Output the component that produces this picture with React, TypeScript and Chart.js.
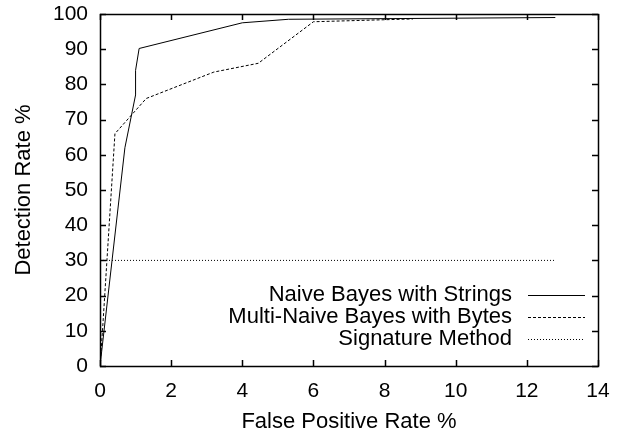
import React, { useEffect, useRef } from "react";
import { Chart, registerables } from "chart.js";

Chart.register(...registerables);

const stringsFP = [0, 0.7, 1.0, 1.0, 1.1, 4.0, 5.3, 12.8];
const stringsDR = [0, 62, 77, 84, 90.2, 97.5, 98.5, 99];
const bytesFP = [0, 0.07, 0.42, 1.3, 3.2, 4.45, 6.0, 8.8];
const bytesDR = [0, 10, 66, 76, 83.5, 86, 97.8, 98.6];
const sigFP = [0, 12.8];
const sigDR = [30, 30];
const seriesNames = ["Naive Bayes with Strings", "Multi-Naive Bayes with Bytes", "Signature Method"];
const xTicks = [0, 2, 4, 6, 8, 10, 12, 14];
const yTicks = [0, 10, 20, 30, 40, 50, 60, 70, 80, 90, 100];

const FONT = "'Liberation Sans', Arial, Helvetica, sans-serif";
const dashes = [[], [3, 2], [1, 2]];

const overlayPlugin = {
  id: "overlayPlugin",
  afterDraw(chart: any) {
    const ctx = chart.ctx;
    const ca = chart.chartArea;
    const L = Math.round(ca.left);
    const R = Math.round(ca.right);
    const T = Math.round(ca.top);
    const B = Math.round(ca.bottom);
    const xs = chart.scales.x;
    const ys = chart.scales.y;
    ctx.save();
    ctx.setLineDash([]);
    ctx.strokeStyle = "#000000";
    ctx.lineWidth = 1.5;
    ctx.strokeRect(L + 0.5, T + 0.5, R - L, B - T);
    ctx.beginPath();
    const tl = 6;
    for (const v of xTicks) {
      const px = Math.round(xs.getPixelForValue(v)) + 0.5;
      ctx.moveTo(px, B);
      ctx.lineTo(px, B - tl);
      ctx.moveTo(px, T);
      ctx.lineTo(px, T + tl);
    }
    for (const v of yTicks) {
      const py = Math.round(ys.getPixelForValue(v)) + 0.5;
      ctx.moveTo(L, py);
      ctx.lineTo(L + tl, py);
      ctx.moveTo(R, py);
      ctx.lineTo(R - tl, py);
    }
    ctx.stroke();

    ctx.lineWidth = 1;
    ctx.fillStyle = "#000000";
    ctx.font = `22px ${FONT}`;
    ctx.textAlign = "right";
    ctx.textBaseline = "middle";
    const rows = [B - 71, B - 49, B - 27];
    seriesNames.forEach((name, i) => {
      const y = rows[i];
      ctx.fillText(name, R - 86, y);
      ctx.beginPath();
      ctx.setLineDash(dashes[i]);
      ctx.moveTo(R - 70, y + 0.5);
      ctx.lineTo(R - 13, y + 0.5);
      ctx.stroke();
    });
    ctx.restore();
  },
};

export default function App() {
  const ref = useRef<HTMLCanvasElement>(null);
  useEffect(() => {
    if (!ref.current) return;
    const mk = (xs: number[], ys: number[]) => xs.map((x, i) => ({ x, y: ys[i] }));
    const chart = new Chart(ref.current, {
      type: "line",
      data: {
        datasets: [
          { label: seriesNames[0], data: mk(stringsFP, stringsDR), borderColor: "#000", borderWidth: 1, pointRadius: 0, tension: 0, fill: false },
          { label: seriesNames[1], data: mk(bytesFP, bytesDR), borderColor: "#000", borderWidth: 1, borderDash: [3, 2], pointRadius: 0, tension: 0, fill: false },
          { label: seriesNames[2], data: mk(sigFP, sigDR), borderColor: "#000", borderWidth: 1, borderDash: [1, 2], pointRadius: 0, tension: 0, fill: false },
        ],
      },
      options: {
        responsive: false,
        animation: false,
        layout: { padding: { top: 14, right: 22, left: 0, bottom: 0 } },
        plugins: { legend: { display: false }, tooltip: { enabled: false } },
        scales: {
          x: {
            type: "linear",
            min: 0,
            max: 14,
            afterBuildTicks: (s: any) => { s.ticks = xTicks.map((v) => ({ value: v })); },
            afterFit: (s: any) => { s.height = 65; s.paddingLeft = 0; s.paddingRight = 0; },
            grid: { display: false, tickLength: 0, drawTicks: false },
            border: { display: false },
            ticks: { color: "#000", font: { family: FONT, size: 21 }, padding: 13, maxRotation: 0 },
            title: { display: true, text: "False Positive Rate %", color: "#000", font: { family: FONT, size: 22, lineHeight: 1 }, padding: { top: 0, bottom: -2 } },
          },
          y: {
            min: 0,
            max: 100,
            afterBuildTicks: (s: any) => { s.ticks = yTicks.map((v) => ({ value: v })); },
            afterFit: (s: any) => { s.width = 100; s.paddingTop = 0; s.paddingBottom = 0; },
            grid: { display: false, tickLength: 0, drawTicks: false },
            border: { display: false },
            ticks: { color: "#000", font: { family: FONT, size: 21 }, padding: 12 },
            title: { display: true, text: "Detection Rate %", color: "#000", font: { family: FONT, size: 22, lineHeight: 1 }, padding: { top: 13, bottom: 0 } },
          },
        },
      },
      plugins: [overlayPlugin],
    } as any);
    return () => chart.destroy();
  }, []);
  return (
    <div style={{ position: "absolute", left: 0, top: 0, width: 620, height: 431, background: "#fff" }}>
      <canvas ref={ref} width={620} height={431} />
    </div>
  );
}
